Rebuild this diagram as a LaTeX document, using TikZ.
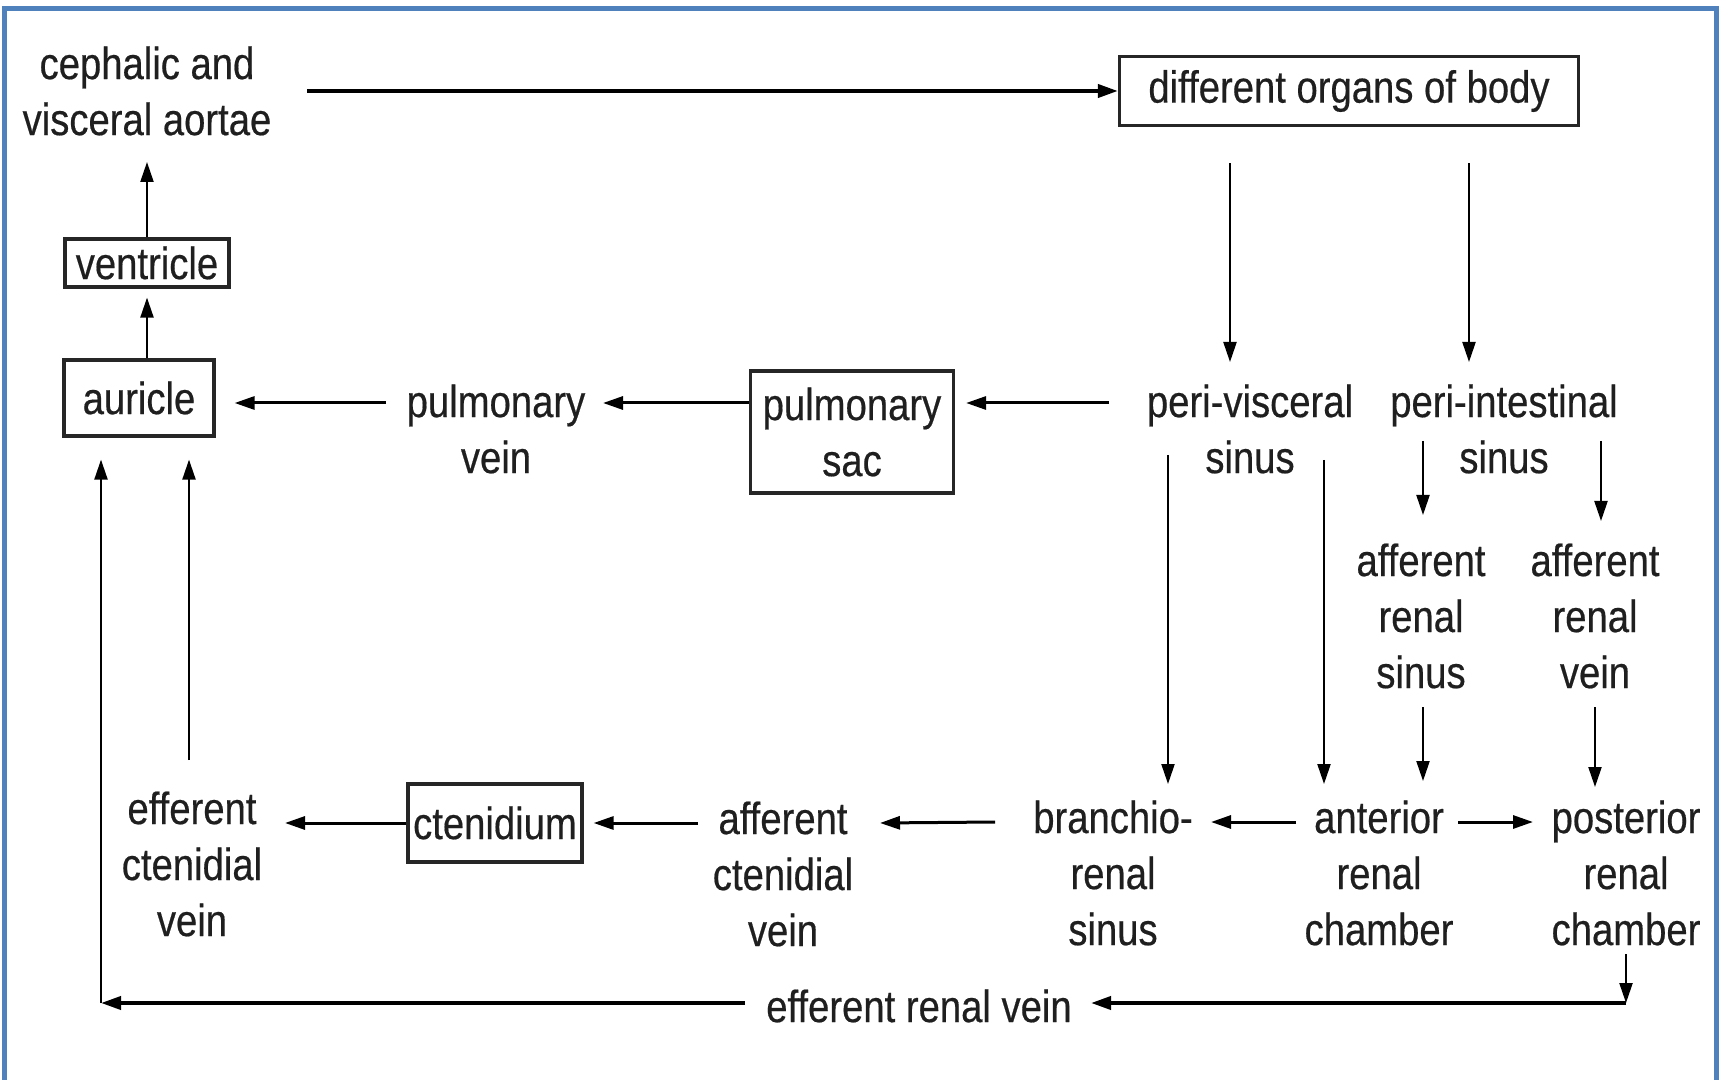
\documentclass[tikz,border=0pt]{standalone}
\usepackage{fontspec}
\setmainfont{Liberation Sans}[FakeStretch=0.85,FakeBold=0.4]
\usepackage{xcolor}
\usepackage{tikz}
\usetikzlibrary{calc,arrows.meta}
\definecolor{frameblue}{RGB}{79,129,189}

\begin{document}
\begin{tikzpicture}[x=0.5pt,y=-0.5pt,
	lbl/.style={align=center,inner sep=0pt,text=black!88,font=\fontsize{22.5}{28}\selectfont},
	box/.style={lbl,draw=black!85,line width=1.6pt},
	arr/.style={-{Triangle[length=10pt,width=6.5pt]},line width=1.1pt},
	harr/.style={arr,line width=1.5pt},
	thk/.style={arr,line width=1.9pt}]
	\useasboundingbox (0,0) rectangle (1719,1080);
	\draw[frameblue,line width=2.5pt] (4,1080) -- (4,9) -- (1716,9) -- (1716,1080);
	
	% top row
	\node[lbl] (aortae) at (147,91) {cephalic and\\visceral aortae};
	\node[box,minimum width=229.5pt,minimum height=34.5pt] (organs) at (1349,91) {different organs of body};
	\node[box,minimum width=82pt,minimum height=24pt] (ventricle) at (147,263) {ventricle};
	
	% middle row
	\node[box,minimum width=75pt,minimum height=38pt] (auricle) at (139,398) {auricle};
	\node[lbl] (pvein) at (496,429) {pulmonary\\vein};
	\node[box,minimum width=101.5pt,minimum height=61pt] (psac) at (852,432) {pulmonary\\sac};
	\node[lbl] (pvisc) at (1250,429) {peri-visceral\\sinus};
	\node[lbl] (pint) at (1504,429) {peri-intestinal\\sinus};
	\node[lbl] (arsinus) at (1421,616) {afferent\\renal\\sinus};
	\node[lbl] (arvein) at (1595,616) {afferent\\renal\\vein};
	
	% bottom row
	\node[lbl] (brsinus) at (1113,873) {branchio-\\renal\\sinus};
	\node[lbl] (antch) at (1379,873) {anterior\\renal\\chamber};
	\node[lbl] (postch) at (1626,873) {posterior\\renal\\chamber};
	\node[lbl] (actv) at (783,874) {afferent\\ctenidial\\vein};
	\node[box,minimum width=87pt,minimum height=39pt] (ctenid) at (495,823) {ctenidium};
	\node[lbl] (ectv) at (192,864) {efferent\\ctenidial\\vein};
	\node[lbl] (erv) at (919,1006) {efferent renal vein};
	\coordinate (blc) at (101,1003);
	\coordinate (brc) at (1626,1003);
	
	\draw[thk] ($(aortae)+(160,0)$) -- (organs.west);
	\draw[arr] (ventricle.north) -- ($(aortae)+(0,71)$);
	\draw[arr] (auricle.north -| ventricle) -- ($(ventricle.south)+(0,9)$);
	\draw[harr] ($(pvein)+(-110,-26)$) -- ($(auricle.east)+(19,5)$);
	\draw[harr] ($(psac.west |- auricle)+(0,5)$) -- ($(pvein)+(107,-26)$);
	\draw[harr] ($(pvisc)+(-141,-26)$) -- ($(psac.east |- auricle)+(11,5)$);
	\draw[arr] ($(organs.south)+(-119,36)$) -- ($(pvisc)+(-20,-67)$);
	\draw[arr] ($(organs.south)+(120,36)$) -- ($(pint)+(-35,-67)$);
	\draw[arr] ($(pvisc)+(-82,26)$) -- ($(brsinus)+(55,-89)$);
	\draw[arr] ($(pvisc)+(74,31)$) -- ($(antch)+(-55,-89)$);
	\draw[arr] ($(pint)+(-81,12)$) -- ($(arsinus)+(2,-101)$);
	\draw[arr] ($(pint)+(97,12)$) -- ($(arvein)+(6,-95)$);
	\draw[arr] ($(arsinus)+(2,91)$) -- ($(antch)+(44,-92)$);
	\draw[arr] ($(arvein)+(0,91)$) -- ($(postch)+(-31,-86)$);
	\draw[harr] ($(antch)+(-83,-51)$) -- ($(brsinus)+(98,-51)$);
	\draw[harr] ($(antch)+(79,-51)$) -- ($(postch)+(-93,-51)$);
	\draw[harr] ($(brsinus)+(-118,-51)$) -- ($(actv)+(97,-51)$);
	\draw[harr] ($(actv)+(-85,-51)$) -- ($(ctenid.east)+(10,0)$);
	\draw[harr] (ctenid.west) -- ($(ectv)+(93,-41)$);
	\draw[arr] ($(ectv)+(-3,-104)$) -- ($(auricle.south)+(50,22)$);
	
	% return loop
	\draw[arr] ($(postch)+(0,81)$) -- (brc);
	\draw[thk] (brc) -- ($(erv)+(172,-3)$);
	\draw[thk] ($(erv)+(-174,-3)$) -- (blc);
	\draw[arr] (blc) -- ($(auricle.south)+(-38,22)$);
\end{tikzpicture}
\end{document}
